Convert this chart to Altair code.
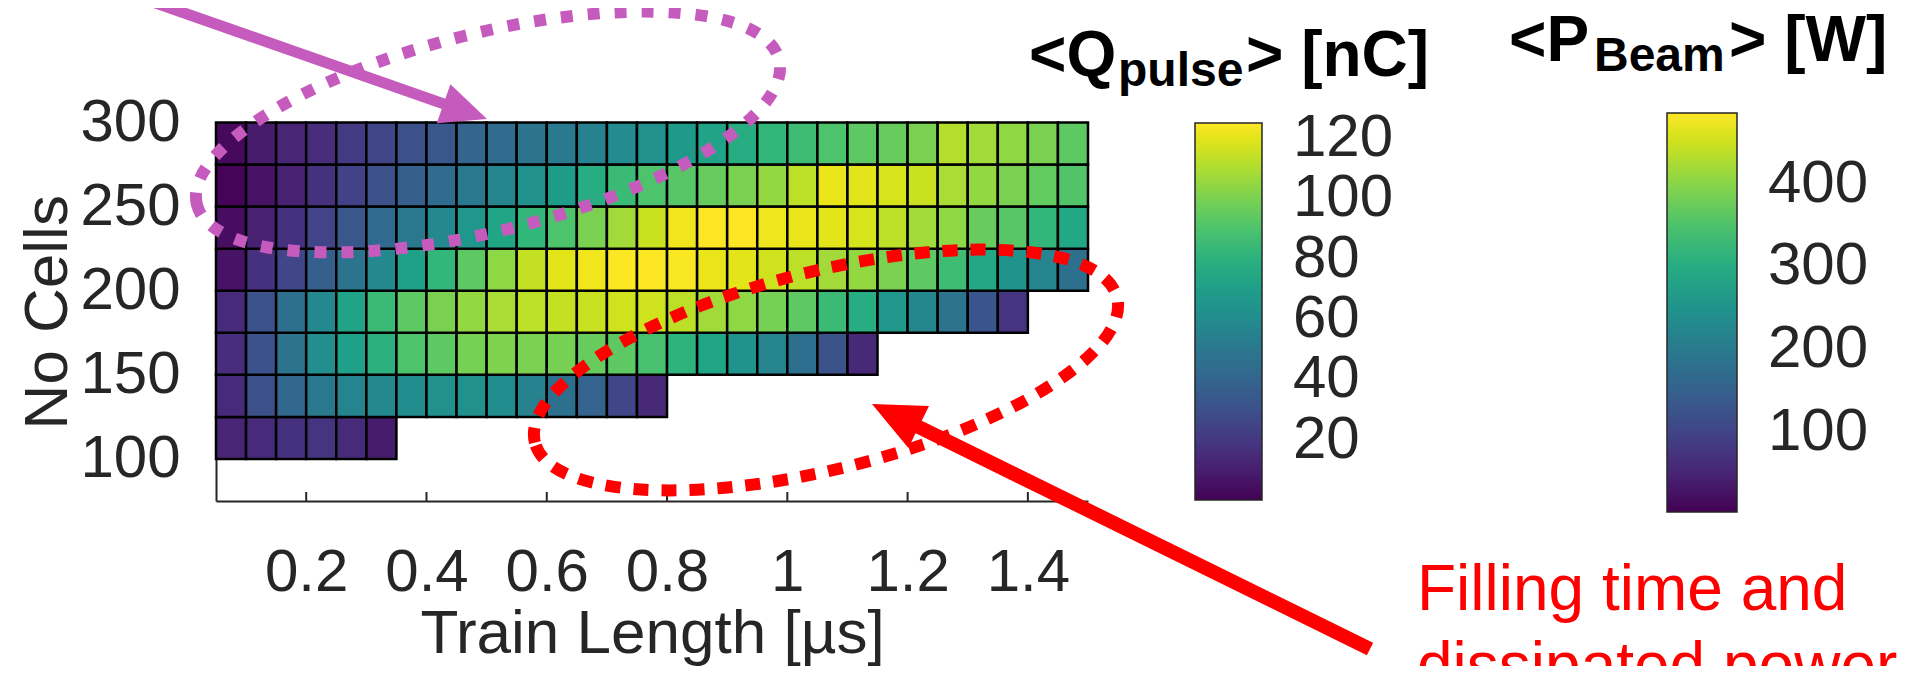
import math
import altair as alt
import pandas as pd

# ---------------- data ----------------
train_edges = [0.05, 0.10, 0.15, 0.20, 0.25, 0.30, 0.35, 0.40, 0.45, 0.50,
               0.55, 0.60, 0.65, 0.70, 0.75, 0.80, 0.85, 0.90, 0.95, 1.00,
               1.05, 1.10, 1.15, 1.20, 1.25, 1.30, 1.35, 1.40, 1.45, 1.50]
cell_edges = [100, 125, 150, 175, 200, 225, 250, 275, 300]

q_100 = [12.5, 15, 17.5, 19, 15, 9]
q_125 = [15, 30, 41, 50, 56, 59, 60, 62.5, 62.5, 60, 55, 46, 39, 26, 14]
q_150 = [16, 31, 47.5, 61, 71, 80, 90, 94, 99, 101, 100, 99, 96, 94, 89, 81,
         74, 64, 56, 45, 31, 14]
q_175 = [15, 31, 46, 59, 72.5, 85, 94, 100, 105, 109, 112.5, 114, 115, 116,
         116, 112.5, 107.5, 104, 99, 94, 85, 77.5, 66, 57.5, 47.5, 32.5, 19]
q_200 = [6, 17.5, 26, 37.5, 47.5, 59, 71, 82.5, 94, 104, 114, 120, 122.5, 125,
         125, 124, 121, 120, 116, 112.5, 107.5, 105, 100, 94, 86, 75, 64, 56, 46]
q_225 = [4, 11, 17.5, 25, 34, 42.5, 50, 59, 66, 74, 82.5, 90, 100, 107.5, 115,
         122.5, 125, 125, 122, 121, 120, 117.5, 112.5, 107.5, 104, 96, 92.5,
         82.5, 75]
q_250 = [1, 6, 11, 17.5, 24, 30, 37.5, 44, 50, 56, 62.5, 69, 77.5, 85, 90,
         92.5, 96, 100, 105, 112.5, 121, 120, 117.5, 115, 109, 105, 100, 95, 91]
q_275 = [2.5, 9, 12.5, 16, 21, 26, 30, 34, 40, 44, 47.5, 51, 55, 60, 62.5,
         67.5, 72.5, 77.5, 82.5, 86, 90, 94, 96, 100, 111, 107.5, 104, 100, 94]
q_rows = [q_100, q_125, q_150, q_175, q_200, q_225, q_250, q_275]

x_ticks = [0.2, 0.4, 0.6, 0.8, 1.0, 1.2, 1.4]
y_ticks = [100, 150, 200, 250, 300]
q_ticks = [20, 40, 60, 80, 100, 120]
q_range = [0, 125]
p_ticks = [100, 200, 300, 400]
p_range = [4, 485]

records = []
for k, row in enumerate(q_rows):
    for j, v in enumerate(row):
        records.append({"t0": train_edges[j], "t1": train_edges[j + 1],
                        "n0": cell_edges[k], "n1": cell_edges[k + 1], "q": v})
cells = pd.DataFrame(records)

# ---------------- layout ----------------
FONT = "Liberation Sans"
TXT = "#262626"
MAGENTA = "#C65BBE"
RED = "#FF0000"
W, H = 872, 378.5
X0, Y0 = 216, 122.5          # page position of plot origin
PAD = {"left": X0 - 8, "top": Y0 - 8,
       "right": 1905 - (X0 - 8) - W, "bottom": 658 - (Y0 - 8) - H}


def px(x):
    return x - X0


def py(y):
    return y - Y0


one = pd.DataFrame({"a": [0]})

x_axis = alt.Axis(values=x_ticks, format="~g", title="Train Length [µs]",
                  labelFont=FONT, labelFontSize=60, labelColor=TXT,
                  labelPadding=42, labelFlush=False, labelOverlap=False,
                  ticks=False, tickSize=0, grid=False,
                  domainColor=TXT, domainWidth=2,
                  titleFont=FONT, titleFontSize=62, titleFontWeight="normal",
                  titleColor=TXT, titleBaseline="top", titleY=102)
y_axis = alt.Axis(values=y_ticks, title="No Cells",
                  labelFont=FONT, labelFontSize=60, labelColor=TXT,
                  labelPadding=36, labelOverlap=False, labelFlush=False,
                  ticks=False, tickSize=0, grid=False,
                  domainColor=TXT, domainWidth=2,
                  titleFont=FONT, titleFontSize=62, titleFontWeight="normal",
                  titleColor=TXT, titleBaseline="middle", titleX=px(47))

x_scale = alt.Scale(domain=[0.05, 1.5], nice=False, zero=False)
y_scale = alt.Scale(domain=[75, 300], nice=False, zero=False)

heat = alt.Chart(cells).mark_rect(stroke="black", strokeWidth=2.5).encode(
    x=alt.X("t0:Q", scale=x_scale, axis=x_axis),
    x2="t1:Q",
    y=alt.Y("n0:Q", scale=y_scale, axis=y_axis),
    y2="n1:Q",
    color=alt.Color("q:Q", scale=alt.Scale(scheme="viridis", domain=q_range),
                    legend=alt.Legend(orient="none", legendX=px(1195), legendY=py(123),
                                      direction="vertical", gradientLength=377,
                                      gradientThickness=67, title=None,
                                      values=q_ticks, labelFont=FONT,
                                      labelFontSize=60, labelColor=TXT,
                                      labelOffset=31, labelOverlap=False,
                                      gradientStrokeColor=TXT,
                                      gradientStrokeWidth=1.5, padding=0)),
)

pbeam = alt.Chart(pd.DataFrame({"p": p_range})).mark_point(opacity=0).encode(
    x=alt.value(0), y=alt.value(0),
    color=alt.Color("p:Q", scale=alt.Scale(scheme="viridis", domain=p_range),
                    legend=alt.Legend(orient="none", legendX=px(1667), legendY=py(113),
                                      direction="vertical", gradientLength=399,
                                      gradientThickness=70, title=None,
                                      values=p_ticks, labelFont=FONT,
                                      labelFontSize=60, labelColor=TXT,
                                      labelOffset=31, labelOverlap=False,
                                      gradientStrokeColor=TXT,
                                      gradientStrokeWidth=1.5, padding=0)),
)

inner_ticks = alt.Chart(pd.DataFrame({"t": x_ticks})).mark_rule(
    color=TXT, strokeWidth=2).encode(
    x=alt.X("t:Q", scale=x_scale, axis=x_axis),
    y=alt.value(H), y2=alt.value(H - 9))


def text(s, x, y, size, color="black", weight="bold"):
    return alt.Chart(one).mark_text(text=s, font=FONT, fontSize=size,
                                    fontWeight=weight, align="left",
                                    baseline="alphabetic", color=color).encode(
        x=alt.value(px(x)), y=alt.value(py(y)))


ARROW = "M 1 0 L -1 -0.9 L -1 0.9 Z"


def arrow(tail, tip, color, width, L):
    dx, dy = tip[0] - tail[0], tip[1] - tail[1]
    d = math.hypot(dx, dy)
    ux, uy = dx / d, dy / d
    ang = math.degrees(math.atan2(dy, dx)) % 360
    ex, ey = tip[0] - ux * L * 0.85, tip[1] - uy * L * 0.85
    cx, cy = tip[0] - ux * L / 2, tip[1] - uy * L / 2
    line = alt.Chart(one).mark_rule(color=color, strokeWidth=width,
                                    strokeCap="butt").encode(
        x=alt.value(px(tail[0])), y=alt.value(py(tail[1])),
        x2=alt.value(px(ex)), y2=alt.value(py(ey)))
    head = alt.Chart(one).mark_point(shape=ARROW, size=L * L, angle=ang,
                                     filled=True, color=color, opacity=1,
                                     strokeWidth=0).encode(
        x=alt.value(px(cx)), y=alt.value(py(cy)))
    return [line, head]


def ellipse(center, a, ratio, tilt, color, width, dash):
    path = f"M -1 0 A 1 {ratio} 0 1 1 1 0 A 1 {ratio} 0 1 1 -1 0 Z"
    return alt.Chart(one).mark_point(shape=path, size=(2 * a) ** 2, angle=tilt,
                                     filled=False, color=color, opacity=1,
                                     strokeWidth=width, strokeDash=dash).encode(
        x=alt.value(px(center[0])), y=alt.value(py(center[1])))


layers = [heat, inner_ticks, pbeam]
layers.append(ellipse((488, 132), 300, 0.33, 346, MAGENTA, 12, [12, 15]))
layers.append(ellipse((826, 370), 300, 0.33, 346, RED, 12, [15, 13]))
layers += arrow((147, 0), (487, 119), MAGENTA, 11, 46)
layers += arrow((1370, 649), (872, 404), RED, 14, 52)

# colorbar titles with subscripts
layers += [text("<Q", 1029, 76, 64), text("pulse", 1118, 86, 48),
           text("> [nC]", 1246, 76, 64)]
layers += [text("<P", 1509, 61, 64), text("Beam", 1594, 71, 48),
           text("> [W]", 1729, 61, 64)]
layers += [text("Filling time and", 1417, 610, 64, RED, "normal"),
           text("dissipated power", 1417, 687, 64, RED, "normal")]

chart = alt.layer(*layers).resolve_scale(color="independent").properties(
    width=W, height=H, padding=PAD,
    autosize=alt.AutoSizeParams(type="none"),
).configure_view(stroke=None)

chart.save("out.html", embed_options={"renderer": "svg", "actions": False})
